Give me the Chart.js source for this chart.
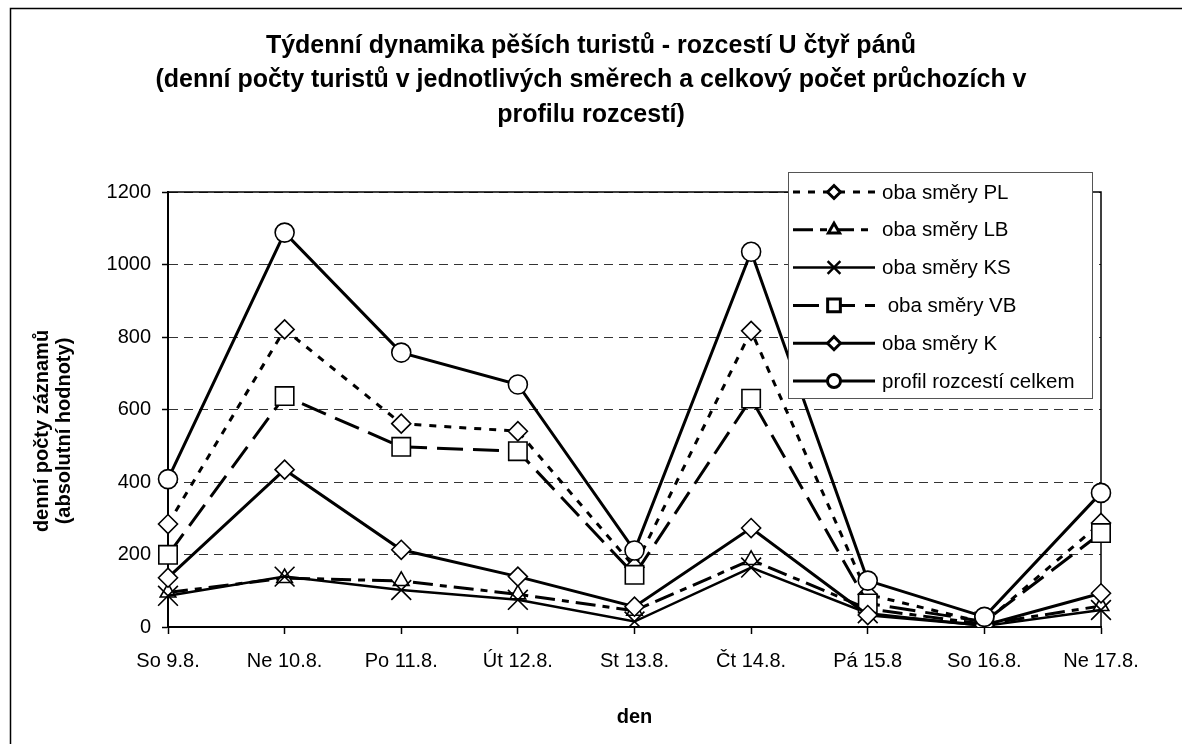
<!DOCTYPE html>
<html lang="cs">
<head>
<meta charset="utf-8">
<title>Týdenní dynamika pěších turistů</title>
<script src="https://cdn.jsdelivr.net/npm/chart.js@4.4.1/dist/chart.umd.min.js"></script>
<style>
    html, body { margin: 0; padding: 0; background: #fff; }
    #graf { display: block; }
</style>
</head>
<body>
<canvas id="graf" width="1182" height="744"></canvas>
<script>
// data
const dny = ['So 9.8.', 'Ne 10.8.', 'Po 11.8.', 'Út 12.8.', 'St 13.8.', 'Čt 14.8.', 'Pá 15.8', 'So 16.8.', 'Ne 17.8.'];
const smerPL = [284, 821, 561, 540, 165, 817, 90, 12, 287];
const smerLB = [95, 135, 127, 90, 45, 185, 50, 8, 58];
const smerKS = [86, 139, 102, 75, 15, 164, 38, 3, 47];
const smerVB = [199, 637, 497, 485, 144, 630, 65, 15, 259];
const smerK = [136, 434, 213, 139, 56, 273, 33, 5, 93];
const celkem = [408, 1088, 757, 669, 211, 1035, 128, 28, 370];
const popiskyY = [0, 200, 400, 600, 800, 1000, 1200];

const nadpis = [
    'Týdenní dynamika pěších turistů - rozcestí U čtyř pánů',
    '(denní počty turistů v jednotlivých směrech a celkový počet průchozích v',
    'profilu rozcestí)'
];
const nazevOsyY = ['denní počty záznamů', '(absolutní hodnoty)'];
const nazevOsyX = 'den';

const PISMO = "'Liberation Sans', Arial, sans-serif";

function rada(popis, data, bod, velikost, carkovani, sirka, poradi, legendaVelikost) {
    return {
        label: popis,
        data: data,
        borderColor: '#000',
        borderWidth: sirka,
        borderDash: carkovani,
        backgroundColor: '#fff',
        pointStyle: bod,
        pointRadius: velikost,
        pointHoverRadius: velikost,
        pointBackgroundColor: '#fff',
        pointBorderColor: '#000',
        pointBorderWidth: 1.6,
        tension: 0,
        fill: false,
        order: poradi,
        legendaVelikost: legendaVelikost
    };
}

// titulky, rámeček a legenda kreslené přímo do plátna
const popisky = {
    id: 'popisky',
    beforeDraw(chart) {
        const ctx = chart.ctx;
        ctx.save();
        ctx.fillStyle = '#fff';
        ctx.fillRect(0, 0, chart.width, chart.height);
        ctx.strokeStyle = '#000';
        ctx.lineWidth = 1.5;
        ctx.beginPath();
        ctx.moveTo(10.5, chart.height);
        ctx.lineTo(10.5, 8.5);
        ctx.lineTo(chart.width, 8.5);
        ctx.stroke();
        ctx.restore();
    },
    beforeDatasetsDraw(chart) {
        const ctx = chart.ctx;
        const a = chart.chartArea;
        ctx.save();
        ctx.strokeStyle = '#000';
        ctx.lineWidth = 1.5;
        ctx.beginPath();
        ctx.moveTo(a.left, a.top);
        ctx.lineTo(a.right, a.top);
        ctx.lineTo(a.right, a.bottom);
        ctx.stroke();
        ctx.restore();
    },
    afterDraw(chart) {
        const ctx = chart.ctx;
        const a = chart.chartArea;
        ctx.save();
        ctx.fillStyle = '#000';
        ctx.textAlign = 'center';
        ctx.textBaseline = 'middle';

        ctx.font = 'bold 25px ' + PISMO;
        nadpis.forEach((radek, i) => ctx.fillText(radek, 591, 46 + i * 34.5));

        ctx.font = 'bold 20px ' + PISMO;
        ctx.fillText(nazevOsyX, (a.left + a.right) / 2, 717);

        ctx.save();
        ctx.translate(42, 431);
        ctx.rotate(-Math.PI / 2);
        ctx.fillText(nazevOsyY[0], 0, 0);
        ctx.fillText(nazevOsyY[1], 0, 22);
        ctx.restore();

        // legenda
        const lx = 788, ly = 172, lw = 304, lh = 226;
        ctx.fillStyle = '#fff';
        ctx.fillRect(lx, ly, lw, lh);
        ctx.strokeStyle = '#555';
        ctx.lineWidth = 1;
        ctx.strokeRect(lx + 0.5, ly + 0.5, lw, lh);

        ctx.textAlign = 'left';
        ctx.font = '20.5px ' + PISMO;
        chart.data.datasets.forEach((ds, i) => {
            const y = 192 + i * 37.8;
            ctx.strokeStyle = '#000';
            ctx.lineWidth = ds.borderWidth;
            ctx.setLineDash(ds.borderDash || []);
            ctx.beginPath();
            ctx.moveTo(793, y);
            ctx.lineTo(875, y);
            ctx.stroke();
            ctx.setLineDash([]);
            ctx.fillStyle = '#fff';
            ctx.strokeStyle = '#000';
            Chart.helpers.drawPoint(ctx, {
                pointStyle: ds.pointStyle,
                radius: ds.legendaVelikost,
                borderWidth: 1.5,
                rotation: 0
            }, 834, y);
            ctx.fillStyle = '#000';
            ctx.fillText(ds.label, 882, y + 1);
        });
        ctx.restore();
    }
};

const ctx = document.getElementById('graf').getContext('2d');
new Chart(ctx, {
    type: 'line',
    data: {
        labels: dny,
        datasets: [
            rada('oba směry PL', smerPL, 'rectRot', 9.5, [7, 8], 3, 6, 6.5),
            rada('oba směry LB', smerLB, 'triangle', 9, [20, 7, 7, 7], 3, 5, 6.5),
            rada('oba směry KS', smerKS, 'crossRot', 14, [], 2.5, 4, 9),
            rada(' oba směry VB', smerVB, 'rect', 13, [26, 10], 3, 3, 9),
            rada('oba směry K', smerK, 'rectRot', 9.5, [], 3, 2, 6.5),
            rada('profil rozcestí celkem', celkem, 'circle', 9.5, [], 3, 1, 6.5)
        ]
    },
    options: {
        responsive: false,
        animation: false,
        layout: { padding: { top: 192, right: 81, bottom: 0, left: 0 } },
        plugins: {
            legend: { display: false },
            title: { display: false },
            tooltip: { enabled: false }
        },
        scales: {
            x: {
                offset: false,
                afterFit: (s) => { s.height = 117; },
                grid: { drawOnChartArea: false, drawTicks: true, tickLength: 7, tickColor: '#000', tickWidth: 1.5 },
                border: { color: '#000', width: 2 },
                ticks: { color: '#000', font: { family: PISMO, size: 20 }, padding: 15, maxRotation: 0, autoSkip: false }
            },
            y: {
                min: 0,
                max: 1200,
                afterFit: (s) => { s.width = 168; },
                afterBuildTicks: (s) => { s.ticks = popiskyY.map(v => ({ value: v })); },
                grid: { color: '#333', lineWidth: 1, tickLength: 6, tickColor: '#000', tickWidth: 1.5 },
                border: { color: '#000', width: 2, dash: [9, 6] },
                ticks: {
                    color: '#000',
                    font: { family: PISMO, size: 20 },
                    padding: 11,
                    callback: (v) => String(v)
                }
            }
        }
    },
    plugins: [popisky]
});
</script>
</body>
</html>
